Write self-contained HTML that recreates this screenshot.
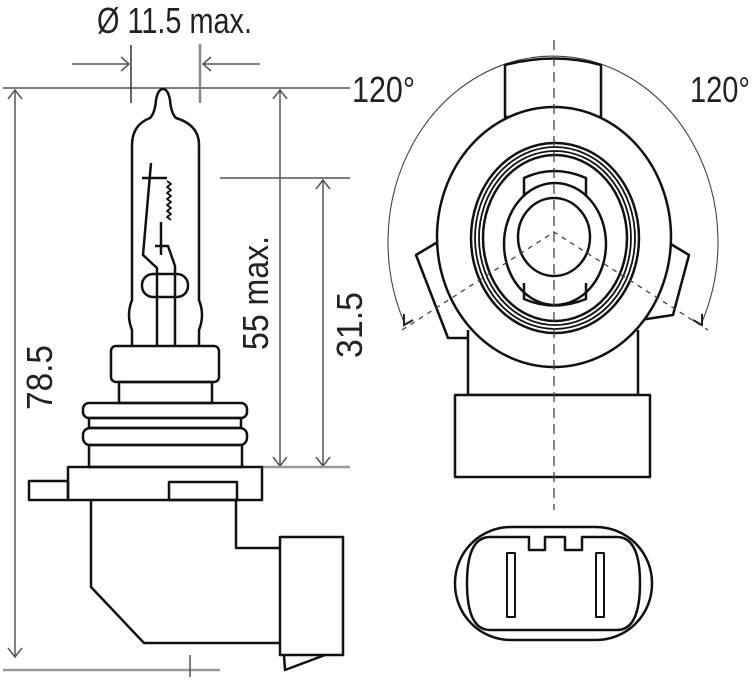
<!DOCTYPE html>
<html><head><meta charset="utf-8"><style>
html,body{margin:0;padding:0;background:#fff;width:752px;height:680px;overflow:hidden}
svg{display:block}
text{font-family:"Liberation Sans",sans-serif;fill:#222}
</style></head><body>
<svg width="752" height="680" viewBox="0 0 752 680" xmlns="http://www.w3.org/2000/svg">
<g stroke="#555" stroke-width="1.5" fill="none">
 <line x1="3" y1="88" x2="350" y2="88"/>
 <line x1="72" y1="64" x2="129" y2="64"/><polyline points="121,57 129,64 121,71"/>
 <line x1="203" y1="64" x2="260" y2="64"/><polyline points="211,57 203,64 211,71"/>
 <line x1="131" y1="45" x2="131" y2="103" stroke="#333"/>
 <line x1="200" y1="44" x2="200" y2="103" stroke="#888" stroke-width="2.5"/>
 <line x1="15" y1="90" x2="15" y2="657"/>
 <polyline points="8,99 15,90 22,99"/><polyline points="8,648 15,657 22,648"/>
 <line x1="3" y1="670" x2="220" y2="670" stroke="#999" stroke-width="2.5"/>
 <line x1="190" y1="655" x2="190" y2="677"/>
 <line x1="280" y1="90" x2="280" y2="466"/>
 <polyline points="273,99 280,90 287,99"/><polyline points="273,457 280,466 287,457"/>
 <line x1="220" y1="178" x2="350" y2="178"/>
 <line x1="323" y1="180" x2="323" y2="466"/>
 <polyline points="316,189 323,180 330,189"/><polyline points="316,457 323,466 330,457"/>
 <line x1="262" y1="467" x2="350" y2="467" stroke="#999" stroke-width="2.5"/>
</g>
<text x="97" y="33" font-size="36" textLength="155" lengthAdjust="spacingAndGlyphs">Ø 11.5 max.</text>
<text x="352" y="102" font-size="36" textLength="63" lengthAdjust="spacingAndGlyphs">120°</text>
<text x="690" y="102" font-size="36" textLength="60" lengthAdjust="spacingAndGlyphs">120°</text>
<text transform="translate(52,410) rotate(-90)" font-size="36" textLength="65" lengthAdjust="spacingAndGlyphs">78.5</text>
<text transform="translate(268,350) rotate(-90)" font-size="36" textLength="114" lengthAdjust="spacingAndGlyphs">55 max.</text>
<text transform="translate(362,358) rotate(-90)" font-size="36" textLength="66" lengthAdjust="spacingAndGlyphs">31.5</text>

<g stroke="#111" stroke-width="2.5" fill="none" stroke-linejoin="round">
 <path d="M132,346 L132,330 Q126,315 132,300 L132,145 Q132,125 150,118 Q155,113 156,100 Q158,89 163,89 Q168,89 170,100 Q171,113 176,118 Q199,125 199,145 L199,300 Q205,315 199,330 L199,346"/>
 <path d="M151,163 L143,255 L157,268 L157,346"/>
 <line x1="142" y1="178" x2="167" y2="178"/>
 <path d="M167,181 l4,3 l-4,3 l4,3 l-4,3 l4,3 l-4,3 l4,3 l-4,3 l4,3 l-4,3 l4,3 l-4,3 l4,3" stroke-width="1.8"/>
 <line x1="161" y1="222" x2="161" y2="255"/>
 <path d="M155,246 L168,246 L175,266 L175,346"/>
 <rect x="142" y="274" width="46" height="23" rx="11"/>
 <rect x="111" y="346" width="108" height="36" rx="5"/>
 <rect x="119" y="382" width="93" height="21"/>
 <rect x="83" y="403" width="164" height="15" rx="6"/>
 <rect x="89" y="418" width="152" height="10"/>
 <rect x="83" y="428" width="164" height="17" rx="7"/>
 <rect x="89" y="445" width="153" height="22"/>
 <rect x="68" y="467" width="194" height="33"/>
 <rect x="29" y="481" width="39" height="19"/>
 <rect x="169" y="482" width="68" height="18"/>
 <path d="M91,500 L91,587 L144,643 L280,643"/>
 <path d="M236,500 L236,548 L280,548"/>
 <rect x="280" y="537" width="63" height="118"/>
 <path d="M284,655 L285,670 L325,655"/>
</g>

<g stroke="#444" stroke-width="1.3" fill="none">
 <path d="M404,322 A165,186 0 1 1 702,322" stroke-width="1.1"/>
 <polyline points="404,314 404,325 413,320" stroke="#222" stroke-width="2"/>
 <polyline points="702,314 702,325 693,320" stroke="#222" stroke-width="2"/>
</g>
<g stroke="#111" stroke-width="2.5" fill="#fff" stroke-linejoin="round">
 <path d="M505,117 L505,65 Q554,52 601,65 L601,117 Z"/>
 <path d="M436,243 L416,255 L448,338 L473,338 L473,300 Z"/>
 <path d="M669,243 L689,255 L673,315 L640,320 L640,300 Z"/>
 <path d="M468,330 L468,395 L638,395 L638,330"/>
 <ellipse cx="554" cy="237" rx="117" ry="130"/>
 <ellipse cx="555" cy="238" rx="84" ry="95" fill="none"/>
 <ellipse cx="555" cy="238" rx="80" ry="91" fill="none" stroke-width="1.8"/>
 <ellipse cx="555" cy="238" rx="76" ry="87" fill="none" stroke-width="1.8"/>
 <ellipse cx="555" cy="238" rx="72" ry="83" fill="none"/>
 <path d="M524,195 L524,178 Q554,164 586,178 L586,195" fill="none"/>
 <path d="M524,283 L524,299 Q554,312 586,299 L586,283" fill="none"/>
 <ellipse cx="555" cy="244" rx="51" ry="61" fill="none"/>
 <ellipse cx="554" cy="237" rx="36" ry="39" fill="none"/>
 <rect x="455" y="395" width="195" height="82"/>
 <rect x="455" y="527" width="197" height="113" rx="56"/>
 <path d="M490,537 L529,537 L529,550 L545,550 L545,537 L565,537 L565,550 L582,550 L582,537 L617,537 Q640,537 640,583 Q640,630 617,630 L490,630 Q467,630 467,583 Q467,537 490,537 Z"/>
 <rect x="507" y="553" width="8" height="64" stroke-width="2"/>
 <rect x="596" y="553" width="8" height="64" stroke-width="2"/>
</g>
<g stroke="#444" stroke-width="1.3" fill="none">
 <line x1="554" y1="40" x2="554" y2="510" stroke-dasharray="10,6"/>
 <path d="M402,330 L554,232 L708,330" stroke-dasharray="5,5"/>
</g>
</svg>
</body></html>
